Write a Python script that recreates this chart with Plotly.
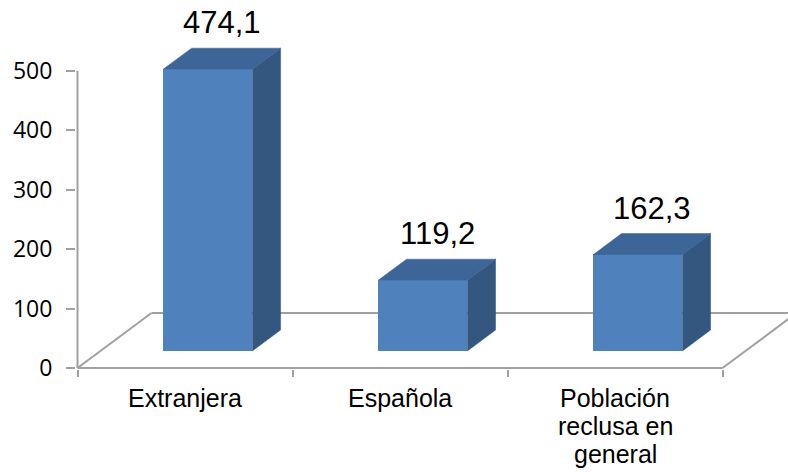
import plotly.graph_objects as go

# ---- data -------------------------------------------------------------
categories = ["Extranjera", "Española", "Población\nreclusa en\ngeneral"]
values = [474.1, 119.2, 162.3]
y_ticks = [0, 100, 200, 300, 400, 500]

# labels shown above each bar, written with a decimal comma
value_labels = [f"{v:.1f}".replace(".", ",") for v in values]

# ---- geometry of the pseudo-3D column chart -----------------------------
W, H = 788, 472
CAT_PX = 215.0          # pixels per category slot
UNIT_PX = 0.5946        # pixels per value unit
ML, MB, MT, MR = 76, 103, 0, 0

X0 = -0.5 - 1.5 / CAT_PX
X1 = X0 + (W - ML - MR) / CAT_PX
Y0 = -1.0 / UNIT_PX
Y1 = Y0 + (H - MT - MB) / UNIT_PX

DEPTH_X = 74.0 / CAT_PX     # full floor depth, horizontal part (x units)
DEPTH_Y = 55.0 / UNIT_PX    # full floor depth, vertical part (y units)
BAR_FRONT, BAR_BACK = 0.31, 0.69
BAR_W = 89.0 / CAT_PX

FRONT = "#4F81BD"
SIDE = "#34577F"
TOP = "#3D6598"
AXIS = "#A0A0A0"

n = len(categories)
xs = list(range(n))

fdx, fdy = BAR_FRONT * DEPTH_X, BAR_FRONT * DEPTH_Y
bdx, bdy = (BAR_BACK - BAR_FRONT) * DEPTH_X, (BAR_BACK - BAR_FRONT) * DEPTH_Y

fig = go.Figure()

# front faces
fig.add_trace(go.Bar(
    x=[c + fdx for c in xs], y=values, base=fdy, width=BAR_W,
    marker=dict(color=FRONT, line=dict(width=0)),
    hoverinfo="skip", showlegend=False,
))

# side and top faces
side_x, side_y, top_x, top_y = [], [], [], []
for c, v in zip(xs, values):
    xl = c + fdx - BAR_W / 2
    xr = c + fdx + BAR_W / 2
    yb, yt = fdy, fdy + v
    side_x += [xr, xr, xr + bdx, xr + bdx, xr, None]
    side_y += [yb, yt, yt + bdy, yb + bdy, yb, None]
    top_x += [xl, xr, xr + bdx, xl + bdx, xl, None]
    top_y += [yt, yt, yt + bdy, yt + bdy, yt, None]

fig.add_trace(go.Scatter(x=side_x, y=side_y, mode="lines", fill="toself",
                         fillcolor=SIDE, line=dict(color=SIDE, width=0.5),
                         hoverinfo="skip", showlegend=False))
fig.add_trace(go.Scatter(x=top_x, y=top_y, mode="lines", fill="toself",
                         fillcolor=TOP, line=dict(color=TOP, width=0.5),
                         hoverinfo="skip", showlegend=False))

# floor outline and vertical axis line
left, right = -0.5, n - 0.5
floor_lines = [
    (left, 0, right, 0),
    (left, 0, left + DEPTH_X, DEPTH_Y),
    (left + DEPTH_X, DEPTH_Y, right + DEPTH_X, DEPTH_Y),
    (right, 0, right + DEPTH_X, DEPTH_Y),
    (left, 0, left, y_ticks[-1]),
]
for ax0, ay0, ax1, ay1 in floor_lines:
    fig.add_shape(type="line", x0=ax0, y0=ay0, x1=ax1, y1=ay1,
                  xref="x", yref="y", layer="below",
                  line=dict(color=AXIS, width=2))

# value labels above the bars
mid = 0.5 * (BAR_FRONT + BAR_BACK)
for c, v, lab in zip(xs, values, value_labels):
    fig.add_annotation(x=c + mid * DEPTH_X, y=v + mid * DEPTH_Y, text=lab,
                       showarrow=False, xanchor="center", yanchor="middle",
                       yshift=36,
                       font=dict(family="Liberation Sans, Arial", size=31,
                                 color="#000000"))

# category labels, one line at a time
LINE_PX = 28
for c, cat in zip(xs, categories):
    for k, line in enumerate(cat.split("\n")):
        fig.add_annotation(x=c, y=Y0, text=line, showarrow=False,
                           xanchor="center", yanchor="middle",
                           yshift=-29 - k * LINE_PX,
                           font=dict(family="Liberation Sans, Arial", size=25,
                                     color="#000000"))

fig.update_xaxes(
    range=[X0, X1], showgrid=False, zeroline=False, showline=False,
    tickmode="array", tickvals=xs, ticks="", showticklabels=False,
    minor=dict(tickmode="array", tickvals=[k - 0.5 for k in range(n + 1)],
               ticks="outside", ticklen=7, tickwidth=2, tickcolor=AXIS,
               showgrid=False),
    fixedrange=True,
)
fig.update_yaxes(
    range=[Y0, Y1], showgrid=False, zeroline=False, showline=False,
    tickmode="array", tickvals=y_ticks, ticks="outside", ticklen=9,
    tickwidth=2, tickcolor=AXIS, ticklabelstandoff=9,
    tickfont=dict(family="Open Sans, Liberation Sans", size=23, color="#000000"),
    fixedrange=True,
)
fig.update_layout(
    width=W, height=H,
    margin=dict(l=ML, r=MR, t=MT, b=MB, pad=0),
    plot_bgcolor="#FFFFFF", paper_bgcolor="#FFFFFF",
    showlegend=False, bargap=0,
)

fig.write_html("out.html", config={"displayModeBar": False})
